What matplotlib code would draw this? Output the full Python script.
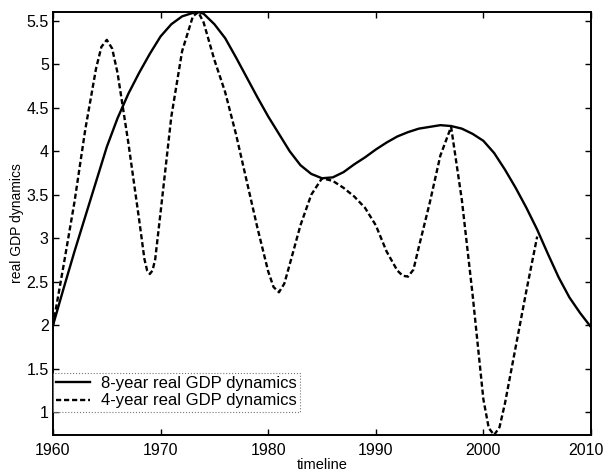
import matplotlib
matplotlib.use("Agg")
import matplotlib.pyplot as plt
import matplotlib.transforms as mtransforms

# values
years_8 = [1960, 1961, 1962, 1963, 1964, 1965, 1966, 1967, 1968, 1969,
           1970, 1971, 1972, 1973, 1973.5, 1974, 1975, 1976, 1977, 1978, 1979,
           1980, 1981, 1982, 1983, 1984, 1985, 1986, 1987, 1988, 1989,
           1990, 1991, 1992, 1993, 1994, 1995, 1996, 1997, 1998, 1999,
           2000, 2001, 2002, 2003, 2004, 2005, 2006, 2007, 2008, 2009, 2010]
gdp_8 = [2.00, 2.43, 2.85, 3.25, 3.65, 4.05, 4.38, 4.66, 4.90, 5.12,
         5.32, 5.46, 5.55, 5.59, 5.60, 5.58, 5.46, 5.30, 5.08, 4.85, 4.62,
         4.40, 4.20, 4.00, 3.84, 3.74, 3.69, 3.70, 3.76, 3.85, 3.93,
         4.02, 4.10, 4.17, 4.22, 4.26, 4.28, 4.30, 4.29, 4.26, 4.20,
         4.12, 3.98, 3.79, 3.58, 3.35, 3.10, 2.82, 2.55, 2.32, 2.14, 1.98]

years_4 = [1960, 1961, 1962, 1963, 1964, 1964.5, 1965, 1965.5, 1966, 1967, 1968,
           1968.5, 1968.75, 1969, 1969.25, 1969.5, 1970, 1971, 1972, 1973, 1973.5,
           1974, 1975, 1976, 1977, 1978, 1979, 1980, 1980.5, 1981, 1981.5, 1982,
           1983, 1984, 1985, 1986, 1987, 1988, 1989, 1990, 1991, 1992, 1992.5,
           1993, 1993.5, 1994, 1995, 1996, 1997, 1998, 1999, 2000, 2000.5, 2001,
           2001.5, 2002, 2003, 2004, 2005]
gdp_4 = [2.00, 2.70, 3.42, 4.25, 4.95, 5.20, 5.28, 5.18, 4.90, 4.10, 3.22,
         2.76, 2.63, 2.59, 2.63, 2.76, 3.30, 4.40, 5.15, 5.55, 5.60,
         5.48, 5.05, 4.68, 4.20, 3.66, 3.12, 2.62, 2.44, 2.38, 2.48, 2.70,
         3.15, 3.50, 3.69, 3.66, 3.58, 3.48, 3.35, 3.15, 2.85, 2.63, 2.57,
         2.56, 2.64, 2.90, 3.40, 3.95, 4.28, 3.44, 2.35, 1.15, 0.82, 0.74,
         0.83, 1.10, 1.75, 2.40, 3.02]

x_ticks = [1960, 1970, 1980, 1990, 2000, 2010]
y_ticks = [1, 1.5, 2, 2.5, 3, 3.5, 4, 4.5, 5, 5.5]

plt.rcParams['font.family'] = ['Liberation Sans', 'DejaVu Sans']

fig = plt.figure(figsize=(6.07, 4.75), dpi=100)
ax = fig.add_axes([0.0873, 0.0842, 0.8863, 0.8905])

ax.plot(years_8, gdp_8, color='black', linewidth=1.7, linestyle='-',
        label='8-year real GDP dynamics')
ax.plot(years_4, gdp_4, color='black', linewidth=1.7, linestyle=(0, (2.2, 1.2)),
        label='4-year real GDP dynamics')

ax.set_xlim(1960, 2010)
ax.set_ylim(0.74, 5.6)
ax.set_xticks(x_ticks)
ax.set_yticks(y_ticks)
ax.set_yticklabels([f'{v:g}' for v in y_ticks])
ax.tick_params(direction='in', top=True, right=True, length=4, width=1,
               labelsize=11.5, pad=6)
ax.tick_params(axis='y', pad=3)
for s in ax.spines.values():
    s.set_linewidth(1.4)

# keep the last year label inside the figure edge
last = ax.get_xticklabels()[-1]
shift = mtransforms.ScaledTranslation(-5 / 100, 0, fig.dpi_scale_trans)
last.set_transform(last.get_transform() + shift)

ax.set_xlabel('timeline', fontsize=10.5, labelpad=0)
ax.set_ylabel('real GDP dynamics', fontsize=10, labelpad=2)

leg = ax.legend(loc='lower left', bbox_to_anchor=(0.0, 0.055), fontsize=12,
                frameon=True, fancybox=False, borderpad=0.2, labelspacing=0.15,
                handlelength=2.0, handletextpad=0.7, borderaxespad=0.0)
leg.get_frame().set_edgecolor('#555555')
leg.get_frame().set_linewidth(0.8)
leg.get_frame().set_linestyle(':')

fig.savefig('out.png', dpi=100)
